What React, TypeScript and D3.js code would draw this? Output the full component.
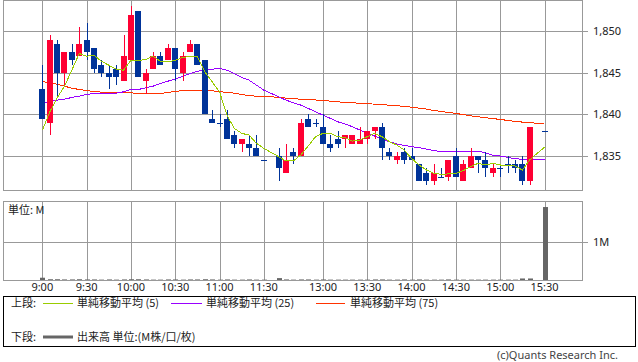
import React from "react";
import * as d3 from "d3";

// 5-minute slots (morning, one blank separator slot, afternoon)
const times = [
  "9:00", "9:05", "9:10", "9:15", "9:20", "9:25", "9:30", "9:35", "9:40", "9:45",
  "9:50", "9:55", "10:00", "10:05", "10:10", "10:15", "10:20", "10:25", "10:30", "10:35",
  "10:40", "10:45", "10:50", "10:55", "11:00", "11:05", "11:10", "11:15", "11:20", "11:25",
  "11:30", "12:25", "12:30", "12:35", "12:40", "12:45", "12:50", "12:55", "13:00", "13:05",
  "13:10", "13:15", "13:20", "13:25", "13:30", "13:35", "13:40", "13:45", "13:50", "13:55",
  "14:00", "14:05", "14:10", "14:15", "14:20", "14:25", "14:30", "14:35", "14:40", "14:45",
  "14:50", "14:55", "15:00", "15:05", "15:10", "15:15", "15:20", "15:25", "15:30",
];

const timeTicks = ["9:00", "9:30", "10:00", "10:30", "11:00", "11:30", "13:00", "13:30", "14:00", "14:30", "15:00", "15:30"];
const priceTicks = [1835, 1840, 1845, 1850];

const open = [
  1843, 1839, 1848.5, 1845, 1847.5, 1847, 1849, 1848, 1846, 1845,
  1845.5, 1844, 1846.5, 1852.5, 1844, 1845.5, 1847, 1846.5, 1848, 1845,
  1847.5, 1848.5, 1846.5, 1839.5, 1839, 1839.5, 1837.5, 1836.5, 1836.5, 1836,
  1834.5, null, 1835, 1833, 1835.5, 1835, 1839.5, 1839, 1838.5, 1836.5,
  1837, 1837, 1836.5, 1836.5, 1837, 1838, 1838.5, 1835.5, 1834.5, 1835.5,
  1835, 1834, 1833, 1832, 1832.5, 1832.5, 1835, 1832, 1833.5, 1835,
  1834.5, 1833, 1833.5, 1834, 1834, 1834, 1832, null, 1838,
];
const high = [
  1846, 1849.5, 1849, 1847.5, 1848.5, 1850.5, 1851, 1848, 1846.5, 1846,
  1846, 1849.5, 1853, 1852.5, 1845.5, 1847.5, 1847.5, 1848.5, 1848, 1847.5,
  1849, 1848.5, 1846.5, 1840.5, 1840, 1840.5, 1838, 1837, 1837.5, 1837.5,
  1834.5, null, 1836, 1836.5, 1836, 1839.5, 1840, 1839.5, 1840, 1837.5,
  1838, 1837.5, 1837.5, 1838.5, 1838, 1838.5, 1839, 1836, 1835.5, 1836,
  1836, 1834, 1833.5, 1834, 1833.5, 1834.5, 1836, 1834.5, 1836, 1835,
  1835.5, 1834, 1834, 1835, 1834.5, 1835, 1838.5, null, 1838,
];
const low = [
  1839.5, 1837.5, 1842, 1843.5, 1846, 1847, 1846.5, 1845, 1844.5, 1843,
  1843.5, 1844, 1846.5, 1844.5, 1842.5, 1845.5, 1846, 1846.5, 1844, 1844,
  1847.5, 1846, 1840, 1839, 1838.5, 1837, 1836, 1835.5, 1835, 1835,
  1834.5, null, 1832, 1833, 1834, 1835, 1838.5, 1838.5, 1836.5, 1835.5,
  1836, 1836, 1836.5, 1836.5, 1836.5, 1837, 1834.5, 1834.5, 1834, 1834,
  1834.5, 1832, 1831.5, 1831.5, 1832.5, 1832, 1832.5, 1832, 1833.5, 1833,
  1832.5, 1832.5, 1832.5, 1833, 1833, 1831.5, 1831.5, null, 1838,
];
const close = [
  1839.5, 1849, 1845, 1847.5, 1846.5, 1848.5, 1847.5, 1845.5, 1845, 1844.5,
  1844.5, 1847, 1852, 1844.5, 1845, 1847, 1846, 1848, 1845.5, 1847,
  1848.5, 1846, 1840, 1839, 1839, 1837, 1836.5, 1837, 1836, 1835,
  1834.5, null, 1833.5, 1834.5, 1835, 1839, 1838.5, 1839, 1836.5, 1836,
  1836.5, 1837.5, 1837.5, 1837, 1838, 1838.5, 1836, 1835, 1835, 1834.5,
  1834.5, 1832, 1832, 1833, 1832.5, 1834.5, 1832.5, 1834, 1835, 1834.5,
  1833.5, 1833.5, 1833.5, 1834, 1833.5, 1832, 1838.5, null, 1838,
];

const ma5 = [
  1838.08, 1840.28, 1841.96, 1843.4, 1845.32, 1847.32, 1847.0, 1847.12, 1846.4, 1845.92,
  1845.44, 1845.32, 1846.52, 1846.48, 1846.6, 1847.0, 1846.4, 1846.32, 1846.52, 1846.84,
  1847.0, 1846.92, 1845.12, 1843.92, 1842.72, 1839.92, 1838.32, 1837.72, 1837.52, 1836.52,
  1835.92, null, 1834.92, 1834.4, 1834.4, 1835.12, 1836.2, 1837.32, 1837.72, 1837.72,
  1837.32, 1837.2, 1836.8, 1836.92, 1837.32, 1837.72, 1837.32, 1836.72, 1836.32, 1835.72,
  1834.72, 1833.92, 1833.32, 1832.92, 1832.8, 1832.84, 1832.92, 1833.24, 1833.72, 1834.12,
  1833.92, 1834.12, 1833.92, 1833.84, 1833.8, 1833.32, 1834.52, 1835.32, 1836.04,
];
const ma25 = [
  1841.32, 1841.52, 1841.72, 1841.84, 1842.04, 1842.2, 1842.4, 1842.52, 1842.56, 1842.56,
  1842.56, 1842.72, 1843.0, 1843.0, 1843.2, 1843.4, 1843.72, 1844.0, 1844.24, 1844.6,
  1844.92, 1845.2, 1845.32, 1845.44, 1845.52, 1845.32, 1844.92, 1844.44, 1844.12, 1843.52,
  1842.92, null, 1842.12, 1841.72, 1841.4, 1841.12, 1840.72, 1840.32, 1839.92, 1839.52,
  1839.12, 1838.84, 1838.52, 1838.12, 1837.72, 1837.4, 1837.0, 1836.72, 1836.44, 1836.28,
  1836.12, 1836.0, 1835.84, 1835.64, 1835.56, 1835.56, 1835.56, 1835.56, 1835.56, 1835.56,
  1835.4, 1835.08, 1835.0, 1834.84, 1834.68, 1834.6, 1834.6, 1834.6, 1834.6,
];
const ma75 = [
  1843.96, 1843.82, 1843.64, 1843.4, 1843.16, 1843.0, 1842.88, 1842.76, 1842.68, 1842.64,
  1842.64, 1842.64, 1842.6, 1842.52, 1842.52, 1842.52, 1842.52, 1842.64, 1842.76, 1842.88,
  1842.92, 1842.92, 1842.92, 1842.84, 1842.74, 1842.64, 1842.56, 1842.4, 1842.26, 1842.2,
  1842.14, null, 1842.08, 1841.96, 1841.88, 1841.84, 1841.8, 1841.74, 1841.68, 1841.6,
  1841.52, 1841.44, 1841.4, 1841.34, 1841.29, 1841.24, 1841.17, 1841.12, 1841.05, 1840.96,
  1840.88, 1840.76, 1840.64, 1840.48, 1840.36, 1840.24, 1840.12, 1839.98, 1839.84, 1839.72,
  1839.6, 1839.5, 1839.4, 1839.28, 1839.16, 1839.08, 1839.0, 1838.94, 1838.9,
];

// volume, millions
const volume = [
  0.06, 0.02, 0.02, 0.015, 0.015, 0.02, 0.015, 0.015, 0.01, 0.015,
  0.01, 0.015, 0.02, 0.02, 0.015, 0.01, 0.01, 0.015, 0.015, 0.01,
  0.015, 0.015, 0.02, 0.015, 0.01, 0.015, 0.01, 0.01, 0.015, 0.01,
  0.01, null, 0.05, 0.015, 0.01, 0.015, 0.015, 0.01, 0.015, 0.01,
  0.01, 0.01, 0.01, 0.01, 0.01, 0.015, 0.015, 0.01, 0.01, 0.015,
  0.01, 0.015, 0.01, 0.01, 0.01, 0.015, 0.01, 0.01, 0.01, 0.01,
  0.01, 0.01, 0.01, 0.01, 0.01, 0.04, 0.04, null, 1.92,
];

const RED = "#ff0033";
const BLUE = "#003399";
const GRID = "#999999";
const C5 = "#99cc00";
const C25 = "#9900ff";
const C75 = "#ff3300";
const NUMFONT = "'Noto Sans', 'DejaVu Sans', sans-serif";
const JPFONT = "'Noto Sans CJK JP', 'Noto Sans', sans-serif";

export default function App() {
  const left = 3.5, right = 582.5;
  const top1 = 0.5, bot1 = 190.5;
  const top2 = 201.5, bot2 = 280.5;

  const x = d3.scalePoint<string>().domain(times).range([42.3, 544.5]);
  const y = d3.scaleLinear().domain([1835, 1850]).range([156, 31.3]);
  const yv = d3.scaleLinear().domain([0, 1]).range([280, 242]);
  const fmt = d3.format(",");

  const line = d3.line<[number, number]>().x(d => d[0]).y(d => d[1]);
  const maPath = (vals: (number | null)[]) =>
    line(
      times
        .map((t, i) => [x(t) as number, vals[i]] as [number, number | null])
        .filter(d => d[1] != null)
        .map(d => [d[0], y(d[1] as number)] as [number, number])
    ) || "";

  const px = (t: string) => Math.round(x(t) as number);

  return (
    <svg width={638} height={362} style={{ position: "absolute", left: 0, top: 0, background: "#fff" }}>
      {/* upper panel grid */}
      <g shapeRendering="crispEdges" stroke={GRID} strokeWidth={1}>
        {priceTicks.map(v => (
          <line key={v} x1={left} x2={right + 5} y1={Math.round(y(v)) + 0.5} y2={Math.round(y(v)) + 0.5} />
        ))}
        {timeTicks.map(t => (
          <line key={t} x1={px(t) + 0.5} x2={px(t) + 0.5} y1={top1} y2={bot1} />
        ))}
        <rect x={left} y={top1} width={right - left} height={bot1 - top1} fill="none" />
      </g>

      {/* lower panel grid */}
      <g shapeRendering="crispEdges" stroke={GRID} strokeWidth={1}>
        <line x1={left} x2={right + 5} y1={Math.round(yv(1)) + 0.5} y2={Math.round(yv(1)) + 0.5} />
        {timeTicks.map(t => (
          <line key={t} x1={px(t) + 0.5} x2={px(t) + 0.5} y1={top2} y2={bot2} />
        ))}
        <rect x={left} y={top2} width={right - left} height={bot2 - top2} fill="none" />
      </g>

      {/* moving averages */}
      <g fill="none" strokeWidth={1} shapeRendering="crispEdges">
        <path d={maPath(ma75)} stroke={C75} />
        <path d={maPath(ma25)} stroke={C25} />
      </g>

      {/* candles */}
      <g shapeRendering="crispEdges">
        {times.map((t, i) => {
          const o = open[i], h = high[i], l = low[i], c = close[i];
          if (o == null || h == null || l == null || c == null) return null;
          const cx = px(t);
          const col = c > o ? RED : BLUE;
          const yt = Math.round(y(Math.max(o, c)));
          const yb = Math.round(y(Math.min(o, c)));
          return (
            <g key={t}>
              <line x1={cx + 0.5} x2={cx + 0.5} y1={Math.round(y(h))} y2={Math.round(y(l))} stroke={col} />
              <rect x={cx - 3} y={yt} width={6} height={Math.max(1, yb - yt)} fill={col} />
            </g>
          );
        })}
      </g>

      <path d={maPath(ma5)} fill="none" stroke={C5} strokeWidth={1} shapeRendering="crispEdges" />

      {/* volume */}
      <g fill="#666666">
        {times.map((t, i) => {
          const v = volume[i];
          if (v == null) return null;
          return <rect key={t} x={px(t) - 2} y={yv(v)} width={5} height={yv(0) - yv(v)} />;
        })}
      </g>

      {/* axis labels */}
      <g fontFamily={NUMFONT} fontSize={11} fill="#222">
        {priceTicks.map(v => (
          <text key={v} x={593} y={y(v) + 4}>{fmt(v)}</text>
        ))}
        <text x={593} y={yv(1) + 4}>1M</text>
        {timeTicks.map(t => (
          <text key={t} x={x(t)} y={291} textAnchor="middle">{t}</text>
        ))}
      </g>
      <text x={8} y={214} fontFamily={JPFONT} fontSize={11} fill="#222">単位: M</text>

      {/* legend */}
      <rect x={3.5} y={296.5} width={632} height={50} fill="none" stroke="#000" shapeRendering="crispEdges" />
      <g fontFamily={JPFONT} fontSize={11} fill="#222">
        <text x={11} y={307}>上段:</text>
        <line x1={43} x2={73} y1={303.5} y2={303.5} stroke={C5} />
        <text x={77} y={307}>単純移動平均 (5)</text>
        <line x1={171} x2={202} y1={303.5} y2={303.5} stroke={C25} />
        <text x={206} y={307}>単純移動平均 (25)</text>
        <line x1={316} x2={345} y1={303.5} y2={303.5} stroke={C75} />
        <text x={350} y={307}>単純移動平均 (75)</text>
        <text x={11} y={341}>下段:</text>
        <line x1={43} x2={73} y1={337} y2={337} stroke="#666666" strokeWidth={3} />
        <text x={77} y={341}>出来高 単位:(M株/口/枚)</text>
      </g>
      <text x={618} y={358.5} textAnchor="end" fontFamily={NUMFONT} fontSize={11} fill="#444">(c)Quants Research Inc.</text>
    </svg>
  );
}
